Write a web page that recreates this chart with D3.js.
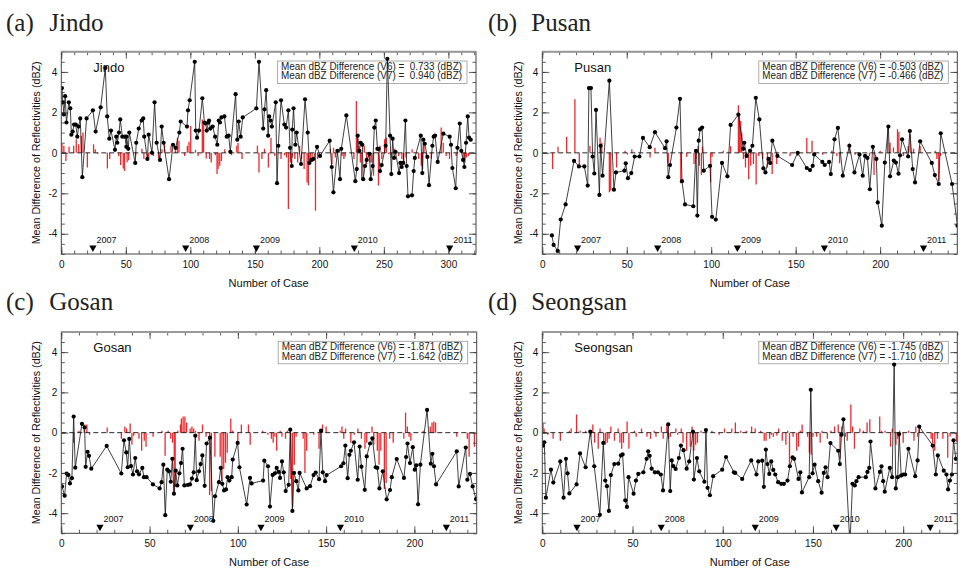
<!DOCTYPE html>
<html><head><meta charset="utf-8">
<script src="https://cdn.jsdelivr.net/npm/d3@7"></script>
<style>
html,body{margin:0;padding:0;background:#fff;}
svg text{white-space:pre;}
</style>
</head><body>
<svg id="c" width="969" height="570"></svg>
<script>
// ---------------- DATA ----------------
const yearLabels = ['2007','2008','2009','2010','2011'];
const yTickValues = [-4,-2,0,2,4];

// Jindo
const jindoPts = [[0.5,3.2],[1.2,2.5],[2,1.9],[3,2.8],[4,1.5],[5.8,2.5],[7,2.2],[7.8,0.9],[8.8,1.05],[9.9,1.4],[11.2,1.4],[12.4,0.8],[13.4,1.3],[14.7,1.7],[16.3,-1.2],[19.6,1.7],[24.5,2.1],[26.6,1.05],[30.5,2.25],[34.1,4.2],[35.6,1.8],[37.2,0.7],[38.5,1.1],[41.6,0.15],[42.6,0.8],[43.4,0.5],[44.7,1.0],[45.7,1.65],[47.3,0.8],[49.3,0.8],[50.4,0.3],[50.6,0.8],[51.9,0.2],[52.7,1.0],[57.3,-0.5],[58.1,0.5],[60,1.2],[62.3,1.6],[63.5,1.7],[64.3,0.8],[66.7,-0.3],[67.7,0.9],[70.3,0.0],[72.3,2.5],[73.9,0.5],[76.5,-0.35],[77.8,1.3],[79.3,0.5],[83.5,-1.3],[86.6,0.4],[88.6,0.25],[91.5,1.0],[92.5,1.55],[97.4,1.3],[98.2,2.1],[99.5,2.6],[103.4,4.5],[104.2,1.1],[105.2,0.75],[106.7,1.1],[109.3,2.7],[110.9,1.5],[111.9,1.45],[112.7,1.1],[114,1.5],[114.5,1.6],[115.5,1.2],[117.3,1.3],[119.2,0.8],[120.9,0.4],[122,1.6],[123,1.5],[124.1,1.75],[126.4,1.8],[128.2,0.8],[129.7,0.85],[131,0.05],[135.1,2.9],[136.4,0.65],[137.5,1.55],[139,0.8],[140.6,1.75],[151.2,2.2],[153.2,4.5],[156.5,1.2],[157.5,2.15],[158.8,3.1],[160.3,0.85],[161.1,1.8],[162.2,1.6],[163.2,1.3],[166.2,2.5],[167.2,-1.5],[168.2,0.35],[170.3,2.6],[172.9,1.4],[174.2,1.25],[176,2.1],[177.3,0.25],[178.6,-0.65],[179,1.15],[180,2.2],[181.4,0.4],[182.4,1.0],[185.8,-0.55],[188.9,2.65],[191,1.0],[192.3,-0.5],[194,-0.35],[195.3,-0.3],[198.2,0.3],[200.5,-0.15],[208,0.6],[209.6,-0.7],[210.9,-1.95],[214,0.1],[216,-1.3],[217,0.2],[220.9,1.85],[227.9,-1.4],[229,-0.8],[229.7,0.85],[231,0.1],[232,0.5],[233.3,0.4],[234,-1.3],[235.4,-0.65],[236.7,-0.35],[238.8,-0.05],[239.8,-1.3],[241.3,-0.65],[242.6,1.25],[243.7,1.6],[245,0.2],[246,0.2],[247,-0.9],[248.3,-0.6],[251.4,0.35],[252.7,4.65],[254.8,0.85],[255.8,-1.05],[256.8,0.7],[257.9,-0.25],[259,0.05],[261.8,-1.0],[262.8,-0.5],[263.8,-0.7],[265,-0.5],[266.7,1.6],[267.7,-0.65],[268.7,-2.15],[271.8,-2.1],[273.1,-0.9],[274,-0.25],[278.6,0.85],[279.8,-1.0],[280.6,0.65],[281.7,0.45],[283.7,-0.2],[285,-1.6],[287.6,0.35],[288.6,0.8],[289.7,0.85],[291.7,-0.45],[296.1,0.95],[301,0.8],[302,0.4],[303.1,-0.75],[305.7,-1.75],[307,0.25],[308.8,1.45],[310,0.1],[311.4,-0.35],[312.4,-0.7],[313.7,0.5],[315,1.8],[316,0.75],[317.3,0.65]];
const jindoBars = [[0.5,0.45],[2,0.35],[3.6,-0.4],[6,0.3],[9.6,0.35],[11.6,0.67],[13.5,0.43],[15.5,0.84],[16.8,1.0],[20.2,-0.72],[25,0.43],[26.3,0.18],[28.3,-0.05],[35.7,-0.77],[37.5,-0.3],[44.5,-0.15],[46,-0.6],[48,-0.77],[49,-0.9],[51,-0.47],[52.2,-0.36],[57.6,-0.15],[62.5,0.2],[64,-0.3],[67.7,-0.23],[71.3,-0.15],[75.4,-0.25],[78,0.18],[80,0.43],[85,0.35],[88.4,0.18],[90,0.75],[91.2,0.6],[95.6,-0.15],[97.7,0.35],[99,0.55],[100.3,1.33],[104,0.15],[106,-0.15],[109.3,1.65],[110.3,1.58],[112.3,-0.28],[114.9,-0.3],[116.2,-0.48],[119.4,-0.12],[120.7,-1.05],[121.5,-0.8],[122.8,-0.64],[124.1,-0.4],[126.7,0.18],[131.9,-0.12],[136,0.35],[137,0.5],[140.1,-0.3],[152,0.35],[153.2,-0.97],[155.5,-0.3],[157.5,0.2],[160.5,-0.72],[162.5,0.75],[165.5,-0.15],[170.3,-0.3],[173,-0.12],[174.5,-0.23],[176,-2.78],[177.5,-0.48],[179,-0.23],[181,-0.3],[183.2,-0.48],[184.7,0.35],[186.2,-0.3],[188.2,-0.8],[190.5,-1.46],[191.5,-1.6],[193,-0.44],[194.4,-0.23],[197,-2.86],[198.7,-0.3],[208.5,0.2],[209.8,-0.56],[211,0.25],[212.4,-0.23],[215.5,0.18],[217.5,-0.15],[219,-0.3],[220,-0.18],[226.8,-0.3],[228.7,2.56],[230.3,0.35],[231.8,-0.48],[232.8,-1.3],[234.8,0.35],[236.6,-0.56],[238,-0.23],[239.3,-0.48],[240.6,-0.48],[242,-1.13],[245.8,-1.62],[247,0.35],[248.4,-0.3],[250.6,0.67],[251.9,0.75],[253.7,-0.07],[255.8,-0.23],[258.4,0.2],[261.5,-0.15],[264,-0.3],[265.4,-0.48],[267.2,-0.23],[271.9,0.18],[277,-0.3],[279,-0.64],[280,-0.8],[281.1,0.35],[282.9,-0.15],[286.7,-0.28],[294.4,1.25],[296,0.5],[298.3,-0.15],[300.9,-0.3],[306,-0.15],[311.5,-0.3],[312.6,-0.48],[314.2,-0.23],[315.7,-0.15]];
const jindoYears = [24.5,96.4,151.2,227.1,301];

// Pusan
const pusanPts = [[5.7,-4.08],[6.7,-4.55],[9.1,-4.85],[10.9,-3.3],[13.8,-2.55],[18.8,-0.4],[21.7,-0.67],[24.9,-0.67],[26.9,-1.62],[27.6,3.2],[28.8,3.2],[29.8,-0.18],[30.8,-1.02],[31.8,2.12],[33.8,-2.08],[34.5,0.35],[35.7,-1.13],[39.7,3.57],[42.4,-1.82],[43.6,-0.97],[48.6,-0.88],[49.4,-0.52],[50.7,-1.25],[52.7,-1.0],[54.7,-0.18],[57.5,-0.18],[59.6,0.74],[63.6,0.28],[66.7,1.02],[72.7,0.23],[73.6,0.57],[74.6,-1.2],[75.6,-0.6],[79.4,1.25],[81.5,2.67],[82.7,-1.4],[84.5,-2.55],[89.4,-2.64],[91,0.1],[91.8,-3.1],[92.6,0.6],[93.4,1.16],[94.6,1.25],[95.6,-0.88],[99.3,-0.64],[100.5,-3.16],[102.7,-3.3],[106.4,-0.5],[109.6,-1.16],[111.5,1.38],[116.1,1.89],[119,0.2],[119.6,0.5],[121,-0.15],[123,0.1],[124.4,0.35],[126.4,2.72],[128.5,1.65],[130.9,-0.77],[132.1,-0.97],[133.9,-0.3],[134.9,-0.5],[136.2,0.6],[139.2,-0.15],[147.9,-0.6],[151.2,0],[156.6,-0.75],[158.5,-0.85],[160.1,-0.64],[161,-0.08],[165.8,-0.45],[167.2,-0.6],[169.8,-0.45],[170.8,-1.05],[173,0.67],[175,1.23],[177.9,-1.13],[181.8,0.35],[184.8,-0.97],[187.8,-0.08],[189.7,-1.13],[191.1,-0.15],[192.5,-0.25],[193.9,-1.8],[195.7,0.3],[197.8,-0.3],[198.6,-2.45],[201,-3.6],[202.8,-0.48],[204.9,1.3],[205.9,-1.16],[208.1,-0.38],[209.3,-0.48],[210.9,-1.03],[211.8,-0.12],[213,0.67],[216.6,-0.18],[217.6,1.08],[219.3,-0.8],[220.7,-1.46],[223.7,0.57],[230.6,-0.5],[232.4,-1.1],[234.7,-1.54],[235.9,0.97],[242.6,-1.54],[245.8,-3.6]];
const pusanBars = [[6.1,-0.8],[9.3,0.3],[14.4,0.8],[19.3,2.65],[21.9,-0.65],[28.2,0.35],[34.2,0.75],[35.2,0.5],[39.7,-1.95],[40.5,-1.87],[44,-0.72],[49,0.1],[50.4,-0.08],[53,0.18],[63.8,-0.23],[66.7,0.25],[74.6,-0.5],[82,-1.5],[85.5,-0.2],[89.8,-0.55],[91,-0.3],[92.2,0.35],[93,-0.64],[94.2,-1.1],[94.8,0.3],[99.7,-1.45],[100.5,-0.2],[107.2,0.1],[111.5,0.33],[116.1,2.35],[116.7,1.9],[117.5,1.57],[118.1,1.0],[119.1,-0.3],[120.3,-0.72],[121.1,-0.15],[122.2,-1.3],[123.4,-0.64],[125,-0.55],[126.6,-1.57],[128.2,-0.15],[130.5,-0.3],[133.3,-0.72],[136.1,-1.05],[138.8,-0.55],[146.7,-0.15],[151.2,-0.15],[156.6,0.74],[159.7,0.6],[166,-0.1],[171.4,0.1],[174.4,-0.15],[176,-0.52],[181.8,0.48],[185.2,-0.1],[193.7,-0.15],[196.4,-1.1],[200,0.1],[204.5,1.37],[205.9,0.5],[207.9,0.26],[210.3,1.17],[211.1,1.03],[213.8,-0.15],[216.6,0.34],[217.8,0.92],[219.8,0.2],[223.7,0.34],[232.6,0.1],[233.6,-0.3],[234.7,-1.38],[235.9,-0.15]];
const pusanYears = [20.9,68.3,115.5,167,225.7];

// Gosan
const gosanPts = [[0.4,-2.67],[1.9,-3.13],[3,-2.03],[4,-2.1],[4.9,-2.52],[6,-2.26],[7,0.8],[7.9,-1.74],[11.7,0.44],[13.2,0.26],[13.8,-1.7],[14.9,-0.95],[15.7,-1.15],[17,-1.79],[25.7,-0.66],[34,-2.03],[35.5,-0.38],[36.8,-0.98],[37.6,-1.72],[38.5,-0.31],[39.5,-1.66],[40.6,-2.08],[41.9,-1.26],[42.9,-1.92],[44,-2.07],[45.9,-1.75],[46.8,-2.21],[48.3,-2.21],[51.9,-2.57],[55.7,-2.77],[56.8,-2.46],[57.8,-1.59],[58.9,-4.1],[60,-1.84],[61,-1.92],[62,-2.44],[62.9,-1.3],[63.8,-3.03],[64.8,-1.89],[65.7,-2.62],[66.9,-2.02],[67.8,-1.51],[68.7,-0.8],[69.7,-2.62],[71.6,-2.6],[72.9,-2.57],[74,-2.28],[75,-1.97],[75.9,-0.15],[76.7,-2.36],[78,-1.92],[78.9,-1.56],[79.9,-1.13],[81.2,-2.64],[82.3,-0.54],[84.2,-0.25],[86.1,-4.38],[87.1,-3.16],[89.3,-2.46],[90.3,-1.75],[91.2,-2.54],[92.2,-2.87],[93.3,-2.82],[94.2,-2.21],[95.2,-2.38],[96.5,-2.21],[97.1,-1.34],[99.9,-0.51],[100.9,-1.72],[105,-3.57],[106.9,-2.25],[107.8,-2.52],[114.3,-2.38],[115,-1.39],[117.1,-1.67],[118.2,-3.67],[119.7,-2.1],[121,-2.02],[122,-1.75],[123.1,-1.95],[123.9,-2.25],[125,-1.43],[126,-1.97],[127.1,-2.9],[128.8,-2.59],[129.7,0.15],[130.9,-3.89],[131.8,-2.0],[133.1,-2.41],[134.3,-2.87],[135,-2.0],[139,-2.77],[140.9,-2.66],[142.9,-2.11],[144.1,-1.98],[146,-2.31],[147.1,0.1],[148.1,-1.97],[149.4,-2.41],[150.3,-2.11],[158.5,-1.67],[159.8,-1.52],[160.9,-0.64],[162.2,-2.26],[163.2,-1.1],[164,-0.9],[165.8,-0.48],[167.9,-2.34],[169,-0.69],[170,-1.69],[171.9,-2.84],[173,-1.18],[174.9,-0.54],[176.2,-0.28],[178.1,-1.72],[179,-1.75],[180.2,-2.77],[182.1,-1.92],[184.3,-3.31],[186.2,-2.85],[187.2,-2.21],[190,-1.31],[194.1,-2.25],[195.3,-1.21],[196.1,-0.54],[197.5,-1.51],[199.1,-0.72],[200.2,-1.84],[201.1,-1.62],[202.1,-3.56],[203.4,-1.59],[207.2,1.13],[209.3,-1.54],[210.2,-1.05],[211.1,-1.67],[212.3,-2.57],[224,-0.93],[225.1,-2.67],[229.1,-0.74],[230,-2.34],[231.5,-2.05],[233,-2.67],[234.9,-3.3]];
const gosanBars = [[7,-0.5],[10,0.1],[13,0.4],[14.5,0.4],[16,-0.1],[26,0.25],[34,-0.3],[36,0.3],[37,0.2],[39,0.45],[40,-0.6],[41,-0.15],[44,-0.3],[45.5,-0.9],[47,-0.4],[48,-0.7],[52,-0.2],[57,0.1],[58.8,-1.15],[60.5,0.1],[62,-0.3],[63,-0.5],[64,-3.1],[64.5,-2.7],[66,0.1],[67.5,0.4],[68,0.7],[69,0.8],[70,0.8],[71,0.5],[73,0.2],[74,0.3],[75,0.2],[76,0.1],[78,-0.4],[80,0.4],[82,-0.2],[84,-3.1],[85,-2.9],[87,-1.2],[90,-1.2],[91,-2.4],[92,-1.8],[93,-1.5],[94,-1.0],[96,0.7],[97,0.1],[100,-0.6],[102,0.4],[106,0.4],[107,-0.6],[114,0.1],[117,-0.1],[119,-0.3],[120,-0.5],[121,-0.2],[122,-0.9],[124,0.1],[125,-0.2],[127,-0.3],[128,0.1],[130,-2.3],[131,-3.7],[132,-1.6],[133,-0.2],[137,-0.3],[138,-2.0],[139,-0.9],[143,-0.1],[146,-0.8],[148,0.4],[150,0.3],[158,0.1],[159,0.3],[160,-0.3],[161,0.2],[164,-0.5],[166,-0.1],[168,0.2],[170,-0.3],[172,-0.8],[173,-0.5],[176,0.3],[177,-0.6],[179,-0.9],[180,-1.6],[181,-0.9],[183,-2.8],[184,-2.5],[186,-0.3],[188,-0.5],[194,-0.3],[195,1.0],[196,0.3],[197,-0.2],[198,-0.4],[205,0.1],[209,0.3],[210,0.5],[211,0.55],[212,0.5],[224,-0.2],[230,-0.3],[231,-1.2],[234,-0.7]];
const gosanYears = [21.9,73.1,113.1,158.1,218.1];

// Seongsan
const seongsanPts = [[0.4,-0.64],[1.1,-0.48],[2,-3.23],[4.8,-1.84],[6.1,-2.48],[10,-1.43],[11.8,-3.23],[13.1,-1.3],[14,-2.02],[15,-3.02],[19,-2.57],[20.9,-1.03],[24,-1.72],[26.6,0.05],[28.8,-1.67],[31.9,-4.08],[33.8,-0.51],[34.9,-2.38],[35.8,-2.66],[36.9,-3.89],[38,-2.11],[39.9,-1.56],[42.1,-1.54],[43.6,-1.13],[44.5,-1.08],[46,-3.36],[46.9,-3.69],[47.8,-2.21],[50.6,-3.03],[51.9,-2.38],[53.2,-2.05],[56,-1.97],[57.8,-1.3],[58.7,-0.93],[59.5,-1.15],[60.6,-1.79],[62.4,-1.97],[64.1,-1.97],[65.7,-2.08],[66.9,-2.87],[69.8,0.41],[70.9,-2.9],[71.7,-1.38],[72.6,-1.66],[73.9,-1.8],[75.7,-1.26],[76.8,-0.64],[78.3,-0.87],[80,-1.79],[81.4,-1.43],[83.5,0.05],[84,-2.33],[85.7,-1.26],[87,-1.92],[89.8,-2.44],[90.7,0.13],[91.6,-2.74],[92.9,-3.11],[94.7,-2.16],[99.7,-1.84],[101.8,-1.21],[106.2,-1.97],[106.9,-2.0],[110.8,-2.3],[115.8,-1.38],[118.7,-2.08],[119.7,-1.43],[121.9,-1.39],[122.8,-2.69],[123.9,-0.84],[124.8,-1.56],[125.8,-2.05],[126.9,-1.43],[128,-1.85],[129.1,-2.08],[130.7,-2.46],[132.4,-2.54],[133.9,-2.54],[135.9,-2.38],[137.2,-1.67],[138.7,-1.23],[139.6,-1.3],[142,-2.3],[143,-1.97],[143.9,-2.97],[147.9,-2.21],[148.8,2.13],[149.8,-2.02],[150.9,-1.59],[152.9,-2.41],[154.8,-2.98],[156,-2.0],[157,-1.72],[158.1,-2.21],[159.7,-0.52],[164,-0.9],[164.9,-1.56],[165.8,-0.11],[166.9,0.66],[170.5,-5.6],[171.9,-2.54],[173.2,-2.62],[174.1,-2.41],[175.3,-2.21],[179.3,-2.21],[180.2,-1.95],[181.2,-1.75],[181.9,-0.44],[184.6,-2.77],[187.1,-1.95],[188,-1.67],[188.9,-2.41],[189.8,-2.93],[192.6,-1.75],[193.9,-2.21],[195,3.38],[195.9,-2.77],[197,-2.21],[197.8,-0.07],[198.9,-2.13],[200,-2.08],[201.1,-2.08],[202.9,-0.8],[206.7,-2.16],[208,-1.38],[208.9,0.3],[216.4,-0.64],[218.1,-2.08],[219.2,-1.13],[222.5,-1.89],[224,-2.08],[224.9,-2.82],[225.9,-2.38],[227,-2.08],[227.9,-0.38],[229.2,-1.3]];
const seongsanBars = [[0.4,0.46],[1,0.2],[3,-0.1],[6,-0.3],[10,-0.4],[15,0.1],[16,0.2],[19,0.9],[21,0.1],[24,0.1],[27,-0.2],[28,0.4],[29,-0.5],[31,-0.8],[32,0.2],[34,-0.6],[35,-0.6],[36,-0.5],[37,-0.3],[38,0.3],[40,-0.4],[42,0.2],[43,-0.5],[44,-0.8],[45,-0.5],[47,0.55],[48,-0.8],[51,0.1],[52,-0.2],[55,0.2],[58,-0.2],[60,-0.3],[62,0.1],[63,-0.2],[66,0.3],[67,-0.3],[69,0.4],[70,-0.3],[71,-0.2],[74,0.2],[75,-0.1],[77,0.2],[78,-0.5],[80,-0.9],[82,-0.7],[83,0.3],[84,-0.9],[85,-0.6],[86,-0.5],[88,0.1],[94,0.1],[98,-0.1],[101,0.2],[105,0.2],[107,0.5],[110,0.1],[113,0.1],[116,0.3],[118,0.2],[121,0.1],[123,-0.4],[124,-0.4],[126,-0.3],[127,-0.1],[128,-0.2],[130,-0.15],[131,0.2],[133,-0.4],[135,-0.6],[136,0.1],[137,-1.6],[139,-0.2],[141,-0.9],[142,-0.7],[143,0.1],[144,0.4],[147,-0.2],[148,-1.0],[149,-1.1],[150,-0.2],[152,-0.2],[154,-0.5],[155,0.1],[158,-0.3],[160,0.1],[162,0.3],[164,0.4],[165,-1.3],[166,0.3],[168,-0.2],[169,-0.4],[171,1.4],[172,0.3],[173,-0.8],[176,0.2],[178,0.1],[180,0.5],[181.5,0.66],[187,0.8],[188,0.1],[190,0.1],[193,-0.7],[194,0.2],[196,-0.6],[197,-0.3],[198,0.1],[200,-0.5],[203,0.1],[206,-0.4],[207,0.3],[208,-0.2],[209,0.2],[215.5,-0.3],[216.3,-0.55],[217.5,-0.9],[219,-0.3],[222,-0.3],[224.7,-1.25],[226,-0.2],[229.5,-0.45]];
const seongsanYears = [19.2,65.9,118,162.9,215];

// ---------------- LAYOUT ----------------
const panels = [
  {tag:'(a)', name:'Jindo', pts:jindoPts, bars:jindoBars, years:jindoYears, v6:' 0.733', v7:' 0.940', xMax:321.4, left:61.3, right:476, top:51.7, bottom:254, tx:6, ty:31, ytx:36},
  {tag:'(b)', name:'Pusan', pts:pusanPts, bars:pusanBars, years:pusanYears, v6:'-0.503', v7:'-0.466', xMax:245.7, left:542.3, right:957.3, top:51.7, bottom:254, tx:488, ty:31, ytx:518},
  {tag:'(c)', name:'Gosan', pts:gosanPts, bars:gosanBars, years:gosanYears, v6:'-1.871', v7:'-1.642', xMax:235.3, left:61.3, right:476.7, top:332, bottom:533.3, tx:6, ty:310, ytx:36},
  {tag:'(d)', name:'Seongsan', pts:seongsanPts, bars:seongsanBars, years:seongsanYears, v6:'-1.745', v7:'-1.710', xMax:230, left:542.3, right:957.3, top:332, bottom:533.3, tx:488, ty:310, ytx:518}
];

const svg = d3.select('#c');
const SANS = "'Liberation Sans', Arial, Helvetica, sans-serif";
const SERIF = "'Liberation Serif', 'Times New Roman', serif";

panels.forEach((p, i) => {
  const x = d3.scaleLinear().domain([0, p.xMax]).range([p.left, p.right]);
  const y = d3.scaleLinear().domain([-5, 5]).range([p.bottom, p.top]);
  const g = svg.append('g');
  const cid = 'clip' + i;
  svg.append('clipPath').attr('id', cid).append('rect')
    .attr('x', p.left).attr('y', p.top).attr('width', p.right - p.left).attr('height', p.bottom - p.top);

  // titles
  g.append('text').attr('x', p.tx).attr('y', p.ty).attr('font-family', SERIF).attr('font-size', 25).attr('fill', '#222').text(p.tag);
  g.append('text').attr('x', p.tx + 43.3).attr('y', p.ty).attr('font-family', SERIF).attr('font-size', 25).attr('fill', '#222').text(p.name);

  // station label (under data)
  g.append('text').attr('x', p.left + 32).attr('y', p.top + 20.4)
    .attr('font-family', SANS).attr('font-size', 13).attr('fill', '#111').text(p.name);

  // legend box (under data)
  const bx = p.right - 198.5;
  g.append('rect').attr('x', bx).attr('y', p.top + 9.3).attr('width', 189.5).attr('height', 22.5)
    .attr('fill', 'none').attr('stroke', '#999').attr('stroke-width', 0.8);
  g.append('text').attr('x', bx + 3.5).attr('y', p.top + 18.3).attr('font-family', SANS).attr('font-size', 10).attr('fill', '#222')
    .attr('textLength', 181).attr('lengthAdjust', 'spacingAndGlyphs')
    .text(`Mean dBZ Difference (V6) = ${p.v6} (dBZ)`);
  g.append('text').attr('x', bx + 3.5).attr('y', p.top + 27.5).attr('font-family', SANS).attr('font-size', 10).attr('fill', '#222')
    .attr('textLength', 181).attr('lengthAdjust', 'spacingAndGlyphs')
    .text(`Mean dBZ Difference (V7) = ${p.v7} (dBZ)`);

  const plot = g.append('g').attr('clip-path', `url(#${cid})`);
  // red bars
  plot.selectAll('line.bar').data(p.bars).enter().append('line')
    .attr('x1', d => x(d[0])).attr('x2', d => x(d[0]))
    .attr('y1', y(0)).attr('y2', d => y(d[1]))
    .attr('stroke', '#ec2a2f').attr('stroke-width', 1.3);
  // zero dashed line
  plot.append('line').attr('x1', p.left).attr('x2', p.right).attr('y1', y(0)).attr('y2', y(0))
    .attr('stroke', '#111').attr('stroke-width', 0.9).attr('stroke-dasharray', '5,3');
  // black line + points
  plot.append('path').datum(p.pts)
    .attr('d', d3.line().x(d => x(d[0])).y(d => y(d[1])))
    .attr('fill', 'none').attr('stroke', '#111').attr('stroke-width', 0.8);
  plot.selectAll('circle').data(p.pts).enter().append('circle')
    .attr('cx', d => x(d[0])).attr('cy', d => y(d[1])).attr('r', 2.1).attr('fill', '#000');

  // axes
  const xMajor = d3.range(0, p.xMax + 0.01, 50);
  const xMinor = d3.range(0, p.xMax + 0.01, 10);
  const yMinor = d3.range(-5, 5.01, 0.5);
  const styleAxis = sel => { sel.select('.domain').remove(); sel.selectAll('line').attr('stroke', '#333').attr('stroke-width', 0.8); sel.selectAll('text').attr('font-family', SANS).attr('font-size', 10).attr('fill', '#111'); };
  g.append('g').attr('transform', `translate(0,${p.bottom})`).call(d3.axisBottom(x).tickValues(xMinor).tickSize(-3.5).tickFormat('')).call(styleAxis);
  g.append('g').attr('transform', `translate(0,${p.bottom})`).call(d3.axisBottom(x).tickValues(xMajor).tickSize(-7).tickPadding(7).tickFormat(d3.format('d'))).call(styleAxis);
  g.append('g').attr('transform', `translate(0,${p.top})`).call(d3.axisTop(x).tickValues(xMinor).tickSize(-3.5).tickFormat('')).call(styleAxis);
  g.append('g').attr('transform', `translate(0,${p.top})`).call(d3.axisTop(x).tickValues(xMajor).tickSize(-7).tickFormat('')).call(styleAxis);
  g.append('g').attr('transform', `translate(${p.left},0)`).call(d3.axisLeft(y).tickValues(yMinor).tickSize(-3.5).tickFormat('')).call(styleAxis);
  g.append('g').attr('transform', `translate(${p.left},0)`).call(d3.axisLeft(y).tickValues(yTickValues).tickSize(-7).tickPadding(4).tickFormat(d => String(d))).call(styleAxis);
  g.append('g').attr('transform', `translate(${p.right},0)`).call(d3.axisRight(y).tickValues(yMinor).tickSize(-3.5).tickFormat('')).call(styleAxis);
  g.append('g').attr('transform', `translate(${p.right},0)`).call(d3.axisRight(y).tickValues(yTickValues).tickSize(-7).tickFormat('')).call(styleAxis);

  // frame
  g.append('rect').attr('x', p.left).attr('y', p.top).attr('width', p.right - p.left).attr('height', p.bottom - p.top)
    .attr('fill', 'none').attr('stroke', '#444').attr('stroke-width', 1);
  g.append('line').attr('x1', p.left).attr('x2', p.right).attr('y1', p.top).attr('y2', p.top)
    .attr('stroke', '#999').attr('stroke-width', 2);

  // year markers
  const ym = g.append('g');
  ym.selectAll('path').data(p.years).enter().append('path')
    .attr('d', d => `M${x(d) - 3.6},${p.bottom - 8.5}L${x(d) + 3.6},${p.bottom - 8.5}L${x(d)},${p.bottom - 2}Z`)
    .attr('fill', '#000');
  ym.selectAll('text').data(p.years).enter().append('text')
    .attr('x', d => x(d) + 3.5).attr('y', p.bottom - 11)
    .attr('font-family', SANS).attr('font-size', 9).attr('fill', '#111')
    .text((d, k) => yearLabels[k]);

  // axis titles
  g.append('text').attr('x', (p.left + p.right) / 2).attr('y', p.bottom + 33)
    .attr('text-anchor', 'middle').attr('font-family', SANS).attr('font-size', 11).attr('fill', '#111').text('Number of Case');
  const cy = (p.top + p.bottom) / 2;
  g.append('text').attr('transform', `translate(${p.ytx + 4},${cy}) rotate(-90)`)
    .attr('text-anchor', 'middle').attr('font-family', SANS).attr('font-size', 11).attr('fill', '#111')
    .attr('textLength', 183).attr('lengthAdjust', 'spacingAndGlyphs')
    .text('Mean Difference of Reflectivities (dBZ)');
});
</script>
</body></html>
